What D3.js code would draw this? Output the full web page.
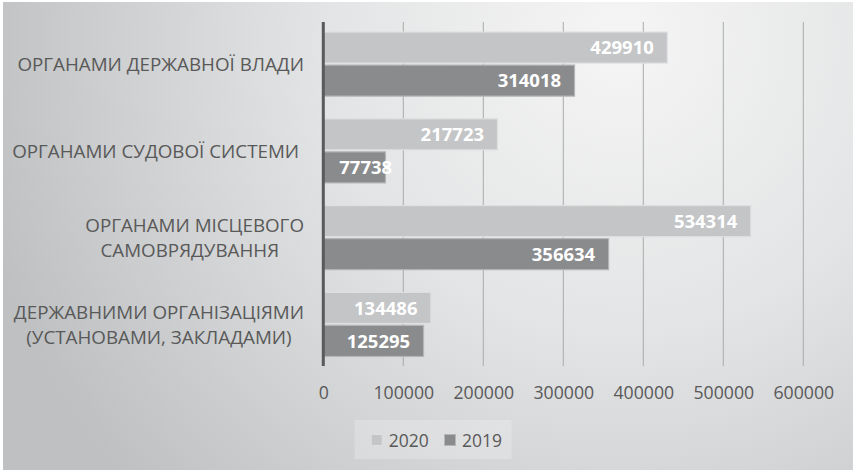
<!DOCTYPE html>
<html>
<head>
<meta charset="utf-8">
<script src="https://cdn.jsdelivr.net/npm/d3@7"></script>
<style>
  html, body { margin: 0; padding: 0; background: #ffffff; }
  svg { display: block; }
  text { font-family: "Open Sans", sans-serif; }
</style>
</head>
<body>
<svg id="chart" width="853" height="470"></svg>
<script>
// ---- data ----
const categories = [
  "ОРГАНАМИ ДЕРЖАВНОЇ ВЛАДИ",
  "ОРГАНАМИ СУДОВОЇ СИСТЕМИ",
  "ОРГАНАМИ МІСЦЕВОГО САМОВРЯДУВАННЯ",
  "ДЕРЖАВНИМИ ОРГАНІЗАЦІЯМИ (УСТАНОВАМИ, ЗАКЛАДАМИ)"
];
const categoryLines = [
  ["ОРГАНАМИ ДЕРЖАВНОЇ ВЛАДИ"],
  ["ОРГАНАМИ СУДОВОЇ СИСТЕМИ "],
  ["ОРГАНАМИ МІСЦЕВОГО", "САМОВРЯДУВАННЯ  "],
  ["ДЕРЖАВНИМИ ОРГАНІЗАЦІЯМИ", "(УСТАНОВАМИ, ЗАКЛАДАМИ)"]
];
const seriesNames = ["2020", "2019"];
const values2020 = [429910, 217723, 534314, 134486];
const values2019 = [314018, 77738, 356634, 125295];
const xTicks = [0, 100000, 200000, 300000, 400000, 500000, 600000];

const seriesValues = { "2020": values2020, "2019": values2019 };
const colors = { "2020": "#c4c5c7", "2019": "#8a8b8d" };
const strokes = { "2020": "#dedfe0", "2019": "#b4b5b7" };

const svg = d3.select("#chart");

// background
const defs = svg.append("defs");
const grad = defs.append("radialGradient")
  .attr("id", "bg").attr("gradientUnits", "userSpaceOnUse")
  .attr("cx", 620).attr("cy", 40).attr("r", 660);
grad.append("stop").attr("offset", "0%").attr("stop-color", "#f5f5f5");
grad.append("stop").attr("offset", "45%").attr("stop-color", "#e3e4e5");
grad.append("stop").attr("offset", "100%").attr("stop-color", "#bec0c2");
svg.append("rect").attr("x", 3).attr("y", 2).attr("width", 850).attr("height", 468)
  .attr("fill", "url(#bg)");

// scales
const x = d3.scaleLinear().domain([0, 600000]).range([323.3, 803.3]);
const y = d3.scaleBand().domain(categories).range([22, 366.5])
  .paddingInner(0.25).paddingOuter(0.11);
const ySub = d3.scaleBand().domain(seriesNames).range([0, y.bandwidth()]).paddingInner(0.03);

// gridlines
svg.append("g").selectAll("line").data(xTicks.slice(1)).join("line")
  .attr("x1", d => x(d)).attr("x2", d => x(d))
  .attr("y1", 22).attr("y2", 366)
  .attr("stroke", "#a9aaab").attr("stroke-width", 1);

// x axis labels
const xAxis = d3.axisBottom(x).tickValues(xTicks).tickFormat(d3.format("d")).tickSize(0).tickPadding(0);
const gx = svg.append("g").attr("transform", "translate(0,386.5)").call(xAxis);
gx.select(".domain").remove();
gx.selectAll("text").attr("font-family", "Open Sans").attr("font-size", 17.7)
  .attr("fill", "#595959").attr("dy", "0.71em");

// bars
const groups = svg.append("g").selectAll("g").data(categories).join("g")
  .attr("transform", d => `translate(0,${y(d)})`);

groups.each(function(cat, i) {
  const g = d3.select(this);
  seriesNames.forEach(s => {
    const v = seriesValues[s][i];
    g.append("rect")
      .attr("x", x(0)).attr("y", ySub(s) + 0.5)
      .attr("width", x(v) - x(0)).attr("height", ySub.bandwidth() - 1)
      .attr("fill", colors[s]).attr("stroke", strokes[s]).attr("stroke-width", 1.2);
  });
  seriesNames.forEach(s => {
    const v = seriesValues[s][i];
    const t = g.append("text")
      .attr("y", ySub(s) + ySub.bandwidth() / 2)
      .attr("dy", "0.36em")
      .attr("font-size", 18.5).attr("font-weight", 700).attr("fill", "#ffffff")
      .text(v);
    const w = t.node().getComputedTextLength();
    let xe = x(v) - 13.4;
    if (xe - w < x(0) + 16) xe = x(0) + 16 + w;
    t.attr("x", xe).attr("text-anchor", "end");
  });
});

// axis line
svg.append("line").attr("x1", x(0)).attr("x2", x(0)).attr("y1", 22).attr("y2", 366)
  .attr("stroke", "#5a5a5a").attr("stroke-width", 3);

// category labels
const rightEdge = 304;
categories.forEach((cat, i) => {
  const lines = categoryLines[i];
  const cy = y(cat) + y.bandwidth() / 2;
  const lh = 25;
  const g = svg.append("g");
  const texts = lines.map((ln, j) => g.append("text")
    .attr("xml:space", "preserve").style("white-space", "pre")
    .attr("font-size", 18.8).attr("fill", "#595959")
    .attr("y", cy + (j - (lines.length - 1) / 2) * lh)
    .attr("dy", "0.36em").attr("text-anchor", "middle")
    .text(ln));
  const maxW = d3.max(texts, t => t.node().getComputedTextLength());
  texts.forEach(t => t.attr("x", rightEdge - maxW / 2));
});

// legend
const lg = svg.append("g");
lg.append("rect").attr("x", 354.5).attr("y", 420).attr("width", 157).attr("height", 39)
  .attr("fill", "#ffffff").attr("fill-opacity", 0.22);
const legendX = [371.2, 444.5];
seriesNames.forEach((s, i) => {
  lg.append("rect").attr("x", legendX[i]).attr("y", 434.5).attr("width", 11).attr("height", 11)
    .attr("fill", colors[s]).attr("stroke", strokes[s]).attr("stroke-width", 1);
  lg.append("text").attr("x", legendX[i] + 17.5).attr("y", 440.5).attr("dy", "0.36em")
    .attr("font-size", 17.5).attr("fill", "#595959").text(s);
});
</script>
</body>
</html>
